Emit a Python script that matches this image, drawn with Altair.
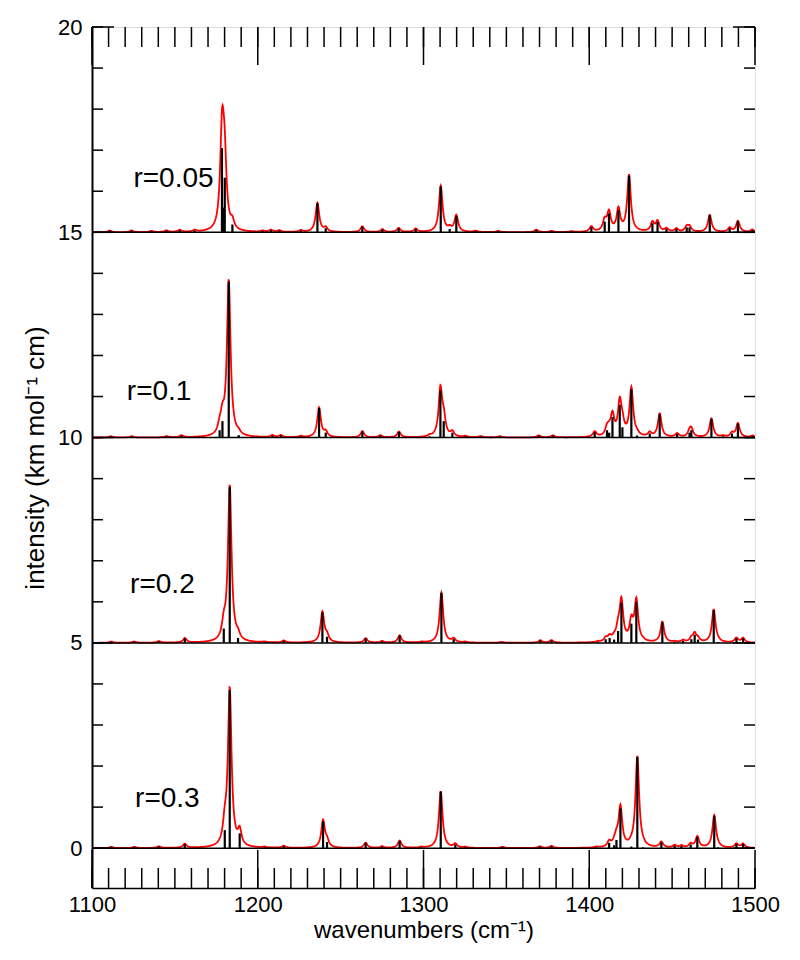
import altair as alt
import numpy as np
import pandas as pd

# ---------------- data ----------------
panel_names = ["r=0.05", "r=0.1", "r=0.2", "r=0.3"]
panel_offsets = [15, 10, 5, 0]
label_x = [1125, 1121, 1123, 1126]
label_y = [16.3, 11.1, 6.4, 1.2]

# stick positions (cm-1) and intensities for each panel
pos_005 = [1110.7, 1123.8, 1135.8, 1144.9, 1152.9, 1162.0, 1178.4, 1179.2, 1180.1, 1184.7,
           1203.0, 1208.0, 1213.0, 1226.0, 1236.0, 1241.0, 1263.1, 1275.2, 1285.0, 1295.3,
           1310.4, 1315.8, 1319.8, 1331.5, 1345.0, 1368.1, 1377.2, 1389.2, 1401.3, 1409.3,
           1411.9, 1417.6, 1424.0, 1438.1, 1441.2, 1446.6, 1452.6, 1458.8, 1460.5, 1472.7,
           1484.7, 1489.7, 1498.4]
int_005 = [0.04, 0.04, 0.03, 0.04, 0.05, 0.04, 2.05, 0.6, 1.33, 0.19,
           0.03, 0.05, 0.04, 0.04, 0.71, 0.10, 0.14, 0.07, 0.10, 0.08,
           1.12, 0.08, 0.40, 0.03, 0.03, 0.06, 0.03, 0.02, 0.13, 0.26,
           0.46, 0.54, 1.38, 0.22, 0.25, 0.08, 0.08, 0.12, 0.12, 0.42,
           0.10, 0.27, 0.06]

pos_01 = [1111.3, 1124.0, 1145.0, 1154.0, 1177.0, 1178.7, 1182.5, 1188.5, 1208.8, 1213.9,
          1226.0, 1237.0, 1241.0, 1263.1, 1274.0, 1285.2, 1303.7, 1310.2, 1312.2, 1317.4,
          1325.2, 1334.5, 1346.0, 1369.5, 1378.1, 1403.3, 1410.7, 1412.0, 1414.0, 1418.4,
          1420.0, 1425.4, 1428.8, 1436.5, 1442.5, 1453.0, 1460.5, 1461.6, 1473.7, 1480.7,
          1486.1, 1489.7, 1498.6]
int_01 = [0.03, 0.03, 0.03, 0.05, 0.18, 0.40, 3.80, 0.06, 0.05, 0.05,
          0.03, 0.72, 0.12, 0.15, 0.05, 0.14, 0.03, 1.15, 0.40, 0.12,
          0.03, 0.03, 0.03, 0.05, 0.05, 0.13, 0.18, 0.12, 0.50, 0.80,
          0.25, 1.18, 0.05, 0.10, 0.57, 0.09, 0.12, 0.18, 0.46, 0.03,
          0.10, 0.34, 0.04]

pos_02 = [1111.7, 1125.4, 1140.3, 1156.0, 1179.5, 1183.1, 1188.1, 1204.0, 1215.7, 1239.0,
          1241.8, 1265.1, 1275.0, 1285.6, 1299.0, 1310.8, 1318.2, 1325.2, 1347.0, 1370.5,
          1377.2, 1405.3, 1409.9, 1412.3, 1415.0, 1417.4, 1419.4, 1425.4, 1428.4, 1432.4,
          1444.1, 1451.5, 1456.6, 1461.6, 1463.6, 1465.6, 1475.1, 1477.7, 1488.8, 1492.8]
int_02 = [0.03, 0.03, 0.04, 0.11, 0.35, 3.80, 0.12, 0.02, 0.05, 0.74,
          0.15, 0.11, 0.04, 0.18, 0.02, 1.22, 0.09, 0.02, 0.02, 0.06,
          0.06, 0.02, 0.09, 0.12, 0.08, 0.29, 0.98, 0.47, 1.00, 0.02,
          0.50, 0.02, 0.05, 0.09, 0.20, 0.08, 0.80, 0.02, 0.11, 0.11]

pos_03 = [1111.7, 1125.4, 1140.3, 1156.0, 1180.1, 1183.1, 1189.1, 1204.0, 1215.7, 1239.4,
          1241.8, 1265.1, 1275.0, 1285.6, 1298.7, 1310.4, 1319.2, 1325.2, 1347.6, 1370.1,
          1377.2, 1404.3, 1412.0, 1415.0, 1416.4, 1418.8, 1425.4, 1429.0, 1432.4, 1443.5,
          1451.5, 1455.6, 1461.2, 1465.2, 1475.4, 1477.7, 1488.8, 1492.8]
int_03 = [0.03, 0.03, 0.04, 0.10, 0.44, 3.85, 0.36, 0.02, 0.05, 0.66,
          0.15, 0.13, 0.04, 0.18, 0.02, 1.38, 0.09, 0.02, 0.03, 0.04,
          0.05, 0.02, 0.13, 0.07, 0.20, 0.97, 0.04, 2.22, 0.02, 0.14,
          0.06, 0.05, 0.09, 0.27, 0.79, 0.02, 0.10, 0.10]

stick_positions = [pos_005, pos_01, pos_02, pos_03]
stick_intensities = [int_005, int_01, int_02, int_03]

lorentz_hwhm = 1.3  # broadening half-width (cm-1)

x_ticks_major = [1100, 1200, 1300, 1400, 1500]
x_ticks_minor = list(range(1100, 1501, 10))
y_ticks_major = [0, 5, 10, 15, 20]
y_ticks_minor = list(range(0, 21))

x_title = "wavenumbers (cm\u207b\u00b9)"
y_title = "intensity (km mol\u207b\u00b9 cm)"

# ---------------- tables ----------------
W, H = 663, 861
FONT = "Liberation Sans"

stick_rows = []
curve_rows = []
grid = np.arange(1100, 1500.001, 0.2)
for name, off, pos, inten in zip(panel_names, panel_offsets, stick_positions, stick_intensities):
    p = np.array(pos)
    a = np.array(inten)
    for xi, ai in zip(p, a):
        stick_rows.append({"panel": name, "x": xi, "base": off, "top": off + ai})
    spec = (a[None, :] * lorentz_hwhm**2 /
            ((grid[:, None] - p[None, :])**2 + lorentz_hwhm**2)).sum(axis=1)
    for gx, gy in zip(grid, spec):
        curve_rows.append({"panel": name, "x": round(float(gx), 2), "y": round(float(off + gy), 4)})

sticks_df = pd.DataFrame(stick_rows)
curve_df = pd.DataFrame(curve_rows)
base_df = pd.DataFrame({"y": panel_offsets})
label_df = pd.DataFrame({"label": panel_names, "x": label_x, "y": label_y})
xmaj_df = pd.DataFrame({"x": x_ticks_major})
xmin_df = pd.DataFrame({"x": x_ticks_minor})
ymaj_df = pd.DataFrame({"y": y_ticks_major})
ymin_df = pd.DataFrame({"y": y_ticks_minor})

xscale = alt.Scale(domain=[1100, 1500], nice=False, zero=False)
yscale = alt.Scale(domain=[-0.97, 20], nice=False, zero=False)

xaxis = alt.Axis(values=x_ticks_major, format="d", ticks=False, grid=False,
                 domain=True, domainColor="black", domainWidth=1.5,
                 labelFontSize=22, labelFont=FONT, labelColor="black", labelPadding=6,
                 title=x_title, titleFontSize=24, titleFont=FONT, titleFontWeight="normal",
                 titleColor="black", titlePadding=3, labelFlush=False)
yaxis = alt.Axis(values=y_ticks_major, format="d", ticks=False, grid=False,
                 domain=True, domainColor="black", domainWidth=2,
                 labelFontSize=22, labelFont=FONT, labelColor="black", labelPadding=10,
                 title=y_title, titleFontSize=26, titleFont=FONT, titleFontWeight="normal",
                 titleColor="black", titlePadding=9, labelFlush=False)

X = lambda f: alt.X(f, scale=xscale, axis=xaxis, title=x_title)
Y = lambda f: alt.Y(f, scale=yscale, axis=yaxis, title=y_title)

red = alt.Chart(curve_df).mark_line(color="#ff0000", strokeWidth=1.8, clip=True).encode(
    x=X("x:Q"), y=Y("y:Q"), detail="panel:N",
)

baselines = alt.Chart(base_df).mark_rule(color="black", strokeWidth=1.5).encode(
    y=Y("y:Q"), x=alt.value(0), x2=alt.value(W),
)

sticks = alt.Chart(sticks_df).mark_rule(color="black", strokeWidth=2.2).encode(
    x=X("x:Q"), y=Y("base:Q"), y2="top:Q",
)

labels = alt.Chart(label_df).mark_text(align="left", baseline="middle", fontSize=28,
                                       font=FONT, color="black").encode(
    x=X("x:Q"), y=Y("y:Q"), text="label:N",
)

def xticks(df, length, top):
    if top:
        return alt.Chart(df).mark_rule(color="black", strokeWidth=1.5).encode(
            x=X("x:Q"), y=alt.value(0), y2=alt.value(length))
    return alt.Chart(df).mark_rule(color="black", strokeWidth=1.5).encode(
        x=X("x:Q"), y=alt.value(H), y2=alt.value(H - length))

def yticks(df, length, right):
    if right:
        return alt.Chart(df).mark_rule(color="black", strokeWidth=1.5).encode(
            y=Y("y:Q"), x=alt.value(W), x2=alt.value(W - length))
    return alt.Chart(df).mark_rule(color="black", strokeWidth=1.5).encode(
        y=Y("y:Q"), x=alt.value(0), x2=alt.value(length))

tick_layers = [
    xticks(xmaj_df, 38, False), xticks(xmin_df, 20, False),
    xticks(xmaj_df, 38, True), xticks(xmin_df, 20, True),
    yticks(ymaj_df, 22, False), yticks(ymin_df, 11, False),
    yticks(ymaj_df, 22, True), yticks(ymin_df, 11, True),
]

chart = alt.layer(red, baselines, sticks, labels, *tick_layers).properties(
    width=W, height=H,
    autosize=alt.AutoSizeParams(type="none"),
    padding={"left": 84, "top": 19, "right": 37, "bottom": 60},
).configure_view(stroke="black", strokeWidth=1.5).configure(background="white")

chart.save("out.html", embed_options={"renderer": "svg", "actions": False})
